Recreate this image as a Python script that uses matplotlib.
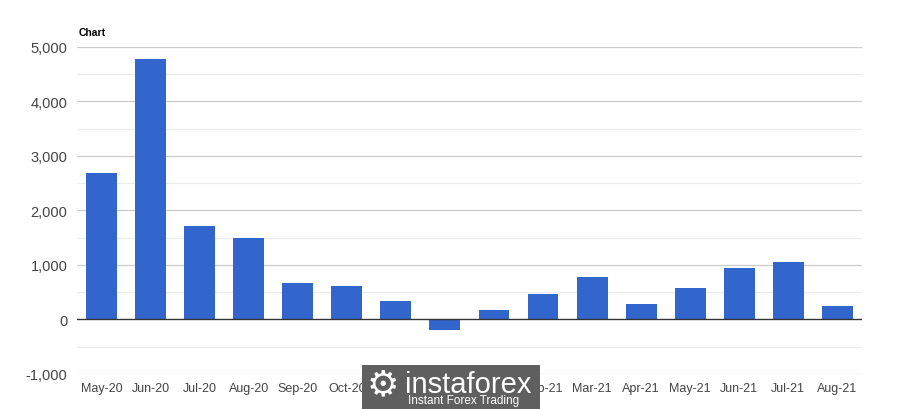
import numpy as np
import matplotlib.pyplot as plt
from matplotlib.patches import FancyBboxPatch

months = ['May-20', 'Jun-20', 'Jul-20', 'Aug-20', 'Sep-20', 'Oct-20', 'Nov-20', 'Dec-20',
          'Jan-21', 'Feb-21', 'Mar-21', 'Apr-21', 'May-21', 'Jun-21', 'Jul-21', 'Aug-21']
values = [2680, 4780, 1720, 1485, 660, 605, 330, -200,
          165, 460, 770, 275, 585, 935, 1045, 240]
yticks = [-1000, 0, 1000, 2000, 3000, 4000, 5000]

plt.rcParams['font.family'] = ['Liberation Sans', 'DejaVu Sans']

fig = plt.figure(figsize=(9, 4.1), dpi=100)
ax = fig.add_axes([0.0856, 0.0854, 0.872, 0.798])

x = np.arange(len(months))
ax.bar(x, values, width=0.63, color='#3366cc', zorder=3)

ax.set_xlim(-0.5, len(months) - 0.5)
ax.set_ylim(-1000, 5000)
ax.set_yticks(yticks)
ax.set_yticklabels([f'{v:,}' for v in yticks])
for v in np.arange(-500, 5000, 1000):
    ax.axhline(v, color='#ebebeb', lw=0.8, zorder=1)
for v in yticks:
    if v != 0:
        ax.axhline(v, color='#cccccc', lw=0.9, zorder=1)
ax.axhline(0, color='#333333', lw=1.0, zorder=4)

ax.set_xticks(x)
ax.set_xticklabels(months)
ax.tick_params(axis='both', length=0, colors='#444444')
ax.tick_params(axis='y', labelsize=10.5, pad=7)
ax.tick_params(axis='x', labelsize=9, pad=6)
for s in ax.spines.values():
    s.set_visible(False)

fig.text(0.0878, 0.912, 'Chart', fontsize=7.5, fontweight='bold', color='#000000')

# watermark
box = FancyBboxPatch((362 / 900, 0.0), 178 / 900, 44 / 410, boxstyle='square,pad=0',
                     transform=fig.transFigure, facecolor='#5f5f5f', edgecolor='none', zorder=10)
fig.patches.append(box)
fig.text(405 / 900, 1 - 385 / 410, 'instaforex', fontsize=21, color='white',
         va='center', ha='left', zorder=11)
fig.text(408 / 900, 1 - 401 / 410, 'Instant Forex Trading', fontsize=8.5, color='white',
         va='center', ha='left', zorder=11)
fig.text(383 / 900, 1 - 386 / 410, '\u2699', fontsize=26, color='white',
         va='center', ha='center', zorder=11)

fig.savefig('out.png', dpi=100)
